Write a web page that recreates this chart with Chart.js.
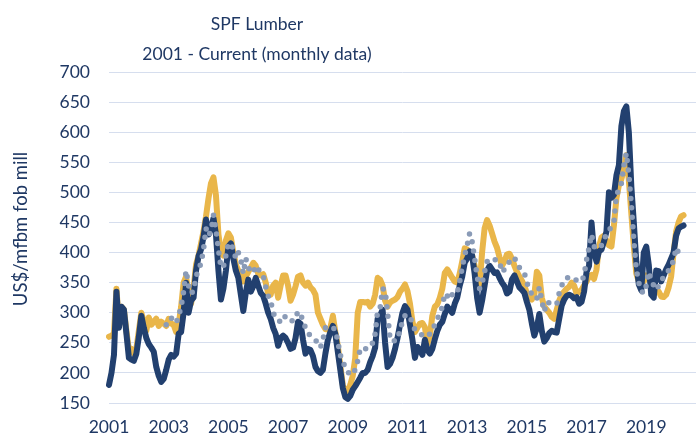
<!DOCTYPE html>
<html>
<head>
<meta charset="utf-8">
<script src="https://cdn.jsdelivr.net/npm/chart.js@4.4.1/dist/chart.umd.min.js"></script>
<style>
  html, body { margin: 0; padding: 0; background: #fff; }
  #wrap { width: 696px; height: 444px; position: relative; }
</style>
</head>
<body>
<div id="wrap"><canvas id="chart"></canvas></div>
<script>
// titles
const titleLines = ['SPF Lumber', '2001 - Current (monthly data)'];
const yAxisTitle = 'US$/mfbm fob mill';

// x axis: monthly categories from Jan 2001, year label every other January
const firstYear = 2001;
const monthCount = 237;
const yearTicks = ['2001', '2003', '2005', '2007', '2009', '2011', '2013', '2015', '2017', '2019'];
const months = [];
for (let i = 0; i < monthCount; i++) {
    const y = firstYear + Math.floor(i / 12);
    const mm = String(i % 12 + 1).padStart(2, '0');
    months.push(y + '-' + mm);
}

// y axis
const yMin = 150, yMax = 700, yStep = 50;

// navy line, Jan 2001 - Apr 2020
const seriesNavy = [
    180, 200, 230, 335, 275, 310, 305, 265, 225, 222, 220, 232,
    260, 295, 275, 258, 248, 242, 235, 210, 195, 185, 190, 205,
    222, 230, 227, 232, 265, 268, 300, 350, 300, 320, 325, 370,
    394, 405, 426, 455, 430, 440, 457, 430, 370, 322, 340, 370,
    410, 415, 390, 370, 358, 330, 303, 333, 355, 335, 344, 358,
    345, 333, 328, 315, 300, 290, 275, 265, 245, 258, 262, 258,
    250, 240, 242, 258, 285, 282, 255, 232, 240, 238, 228, 210,
    203, 200, 205, 232, 255, 268, 278, 265, 235, 205, 175, 160,
    157, 162, 172, 178, 185, 192, 200, 200, 205, 218, 228, 242,
    290, 295, 305, 250, 210, 215, 225, 240, 258, 280, 300, 311,
    305, 280, 255, 225, 243, 238, 230, 255, 238, 232, 240, 256,
    270, 280, 285, 298, 310, 305, 300, 315, 325, 345, 360, 383,
    390, 402, 395, 365, 325, 300, 320, 345, 370, 378, 372, 366,
    367, 358, 350, 344, 332, 335, 355, 362, 352, 342, 338, 333,
    318, 305, 282, 262, 275, 298, 270, 252, 258, 266, 270, 268,
    267, 290, 312, 322, 328, 330, 328, 324, 326, 315, 318, 335,
    368, 378, 450, 400, 385, 402, 405, 418, 435, 500, 491, 496,
    528, 545, 610, 635, 643, 600, 510, 450, 385, 347, 337, 400,
    410, 380, 330, 325, 370, 369, 352, 362, 372, 380, 390, 400,
    428, 440, 443, 445
];

// gold line, Jan 2001 - Apr 2020
const seriesGold = [
    260, 262, 265, 340, 280, 310, 305, 270, 238, 240, 232, 240,
    270, 300, 285, 270, 292, 280, 285, 290, 278, 285, 282, 278,
    290, 282, 280, 268, 280, 310, 350, 360, 330, 315, 340, 380,
    395, 415, 435, 460, 490, 515, 525, 495, 430, 400, 395, 420,
    432, 425, 400, 380, 370, 366, 352, 360, 368, 375, 383, 378,
    365, 362, 364, 350, 332, 330, 345, 350, 325, 345, 362, 362,
    345, 320, 330, 344, 360, 362, 350, 345, 350, 342, 338, 330,
    300, 290, 280, 273, 272, 275, 295, 268, 245, 212, 180, 165,
    170, 180, 195, 225, 300, 318, 318, 317, 318, 310, 315, 330,
    358, 355, 345, 320, 310, 317, 320, 322, 326, 335, 340, 347,
    336, 315, 285, 268, 275, 282, 283, 276, 248, 262, 295, 310,
    314, 325, 340, 366, 372, 365, 358, 352, 350, 365, 385, 407,
    405, 400, 395, 378, 362, 345, 400, 440, 454, 445, 432, 418,
    408, 392, 378, 385, 397, 398, 390, 378, 368, 360, 353, 345,
    332, 325, 322, 330, 368, 362, 325, 310, 305, 300, 293, 290,
    305, 320, 330, 335, 340, 343, 350, 345, 332, 335, 338, 345,
    352, 360, 363, 356, 372, 410, 425, 428, 420, 412, 410, 445,
    490, 512, 522, 538, 562, 520, 465, 410, 365, 352, 352, 352,
    362, 358, 350, 345, 340, 335, 327, 326, 330, 342, 360, 400,
    435, 450, 460, 462
];

// dotted grey line, starts Dec 2002
const seriesGrey = [
    null, null, null, null, null, null, null, null, null, null, null, null,
    null, null, null, null, null, null, null, null, null, null, null, 280,
    287, 292, 285, 283, 295, 310, 335, 370, 345, 332, 336, 360,
    372, 382, 405, 440, 428, 435, 462, 438, 405, 375, 376, 395,
    415, 415, 405, 390, 400, 388, 365, 390, 375, 368, 366, 378,
    372, 368, 362, 343, 328, 320, 300, 292, 290, 283, 287, 295,
    292, 288, 286, 292, 302, 298, 286, 275, 266, 262, 258, 255,
    248, 242, 255, 275, 278, 276, 275, 272, 252, 230, 218, 210,
    202, 196, 200, 205, 220, 240, 242, 240, 241, 242, 250, 265,
    303, 308, 340, 338, 300, 256, 252, 254, 255, 272, 285, 295,
    296, 295, 280, 272, 268, 265, 263, 262, 260, 265, 272, 280,
    290, 298, 310, 332, 328, 322, 330, 333, 332, 352, 375, 395,
    412, 432, 418, 390, 360, 340, 349, 368, 385, 390, 389, 388,
    388, 385, 367, 372, 376, 385, 392, 390, 386, 375, 370, 366,
    350, 340, 330, 325, 323, 342, 320, 302, 318, 316, 315, 314,
    314, 333, 345, 355, 358, 358, 359, 355, 354, 353, 352, 362,
    388, 408, 430, 410, 407, 406, 412, 422, 430, 435, 445, 450,
    495, 505, 515, 545, 565, 530, 480, 420, 372, 350, 336, 332,
    345, 368, 355, 345, 338, 345, 352, 360, 366, 370, 378, 387,
    408, 400, 395
];

const textColor = '#1F3864';
const fontFamily = 'Lato, "Open Sans", sans-serif';

// titles drawn straight onto the canvas so they can sit where the original had them
const titlePlugin = {
    id: 'titles',
    afterDraw(chart) {
        const ctx = chart.ctx;
        ctx.save();
        ctx.fillStyle = textColor;
        ctx.textAlign = 'center';
        ctx.textBaseline = 'alphabetic';
        ctx.font = '17.5px ' + fontFamily;
        ctx.fillText(titleLines[0], 257, 30);
        ctx.fillText(titleLines[1], 257, 60);
        ctx.font = '18.5px ' + fontFamily;
        ctx.translate(27, 229);
        ctx.rotate(-Math.PI / 2);
        ctx.fillText(yAxisTitle, 0, 0);
        ctx.restore();
    }
};

const ctx = document.getElementById('chart').getContext('2d');
new Chart(ctx, {
    type: 'line',
    data: {
        labels: months,
        datasets: [
            {
                data: seriesGrey,
                borderColor: '#8A9BB7',
                borderWidth: 5.5,
                borderDash: [0, 9.5],
                borderCapStyle: 'round',
                borderJoinStyle: 'round',
                pointRadius: 0,
                tension: 0,
                order: 0
            },
            {
                data: seriesNavy,
                borderColor: '#22406F',
                borderWidth: 6,
                borderCapStyle: 'round',
                borderJoinStyle: 'round',
                pointRadius: 0,
                tension: 0,
                order: 1
            },
            {
                data: seriesGold,
                borderColor: '#E9B64A',
                borderWidth: 6,
                borderCapStyle: 'round',
                borderJoinStyle: 'round',
                pointRadius: 0,
                tension: 0,
                order: 2
            }
        ]
    },
    options: {
        responsive: true,
        maintainAspectRatio: false,
        animation: false,
        layout: { padding: { top: 72, right: 0, bottom: 0, left: 0 } },
        plugins: {
            legend: { display: false },
            title: { display: false },
            tooltip: { enabled: false }
        },
        scales: {
            x: {
                type: 'category',
                grid: { display: false, drawTicks: false },
                border: { display: false },
                ticks: {
                    autoSkip: false,
                    maxRotation: 0,
                    minRotation: 0,
                    padding: 14,
                    color: textColor,
                    font: { family: fontFamily, size: 17.5 },
                    callback(value, index) {
                        const lab = months[index];
                        const yr = lab.slice(0, 4);
                        return lab.endsWith('-01') && yearTicks.includes(yr) ? yr : '';
                    }
                },
                afterFit(scale) {
                    scale.height = 41;
                    scale.paddingRight = 0;
                }
            },
            y: {
                min: yMin,
                max: yMax,
                grid: { color: '#D6DEEE', lineWidth: 1, drawTicks: false },
                border: { display: false },
                ticks: {
                    stepSize: yStep,
                    padding: 19,
                    color: textColor,
                    font: { family: fontFamily, size: 17.5 }
                },
                afterFit(scale) { scale.width = 109; }
            }
        }
    },
    plugins: [titlePlugin]
});
</script>
</body>
</html>
